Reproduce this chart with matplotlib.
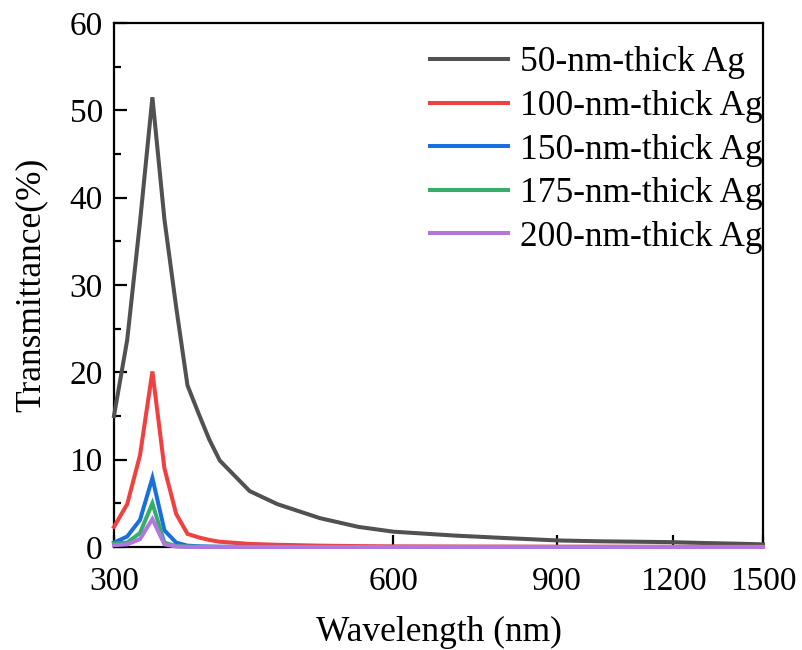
import matplotlib
matplotlib.use("Agg")
import matplotlib.pyplot as plt
from matplotlib.ticker import FixedLocator, FixedFormatter, NullLocator, MultipleLocator

plt.rcParams['font.family'] = ['Liberation Serif', 'DejaVu Serif']

wavelength = [300, 310, 320, 330, 340, 350, 360, 370, 380, 390, 420, 450,
              500, 550, 600, 700, 800, 900, 1000, 1100, 1200, 1300, 1400, 1500]
t50 = [15.0, 23.7, 37.2, 51.5, 37.5, 27.5, 18.5, 15.3, 12.3, 9.9, 6.4, 4.9,
       3.3, 2.3, 1.75, 1.3, 1.0, 0.75, 0.65, 0.6, 0.55, 0.45, 0.38, 0.3]
t100 = [2.3, 4.9, 10.5, 20.1, 9.0, 3.8, 1.5, 1.1, 0.8, 0.6, 0.35, 0.25,
        0.15, 0.1, 0.07, 0.05, 0.04, 0.03, 0.03, 0.02, 0.02, 0.02, 0.02, 0.02]
t150 = [0.5, 1.2, 3.1, 7.9, 1.9, 0.5, 0.15, 0.08, 0.05, 0.03, 0.01, 0.01,
        0.0, 0.0, 0.0, 0.0, 0.0, 0.0, 0.0, 0.0, 0.0, 0.0, 0.0, 0.0]
t175 = [0.4, 0.5, 1.6, 5.0, 0.5, 0.1, 0.05, 0.02, 0.01, 0.0, 0.0, 0.0,
        0.0, 0.0, 0.0, 0.0, 0.0, 0.0, 0.0, 0.0, 0.0, 0.0, 0.0, 0.0]
t200 = [0.2, 0.3, 0.9, 3.2, 0.3, 0.05, 0.01, 0.0, 0.0, 0.0, 0.0, 0.0,
        0.0, 0.0, 0.0, 0.0, 0.0, 0.0, 0.0, 0.0, 0.0, 0.0, 0.0, 0.0]

labels = ["50-nm-thick Ag", "100-nm-thick Ag", "150-nm-thick Ag",
          "175-nm-thick Ag", "200-nm-thick Ag"]
colors = ['#515151', '#F14040', '#1A6FDF', '#37AD6B', '#B177DE']
series = [t50, t100, t150, t175, t200]

xticks = [300, 600, 900, 1200, 1500]
yticks = [0, 10, 20, 30, 40, 50, 60]

fig = plt.figure(figsize=(8.02, 6.5), dpi=100)
ax = fig.add_axes([0.1421, 0.1585, 0.8093, 0.8061])

for y, c, lab in zip(series, colors, labels):
    ax.plot(wavelength, y, color=c, lw=2.9, label=lab, zorder=5, clip_on=False,
            solid_joinstyle='miter')

ax.set_xscale('log')
ax.set_xlim(300, 1500)
ax.set_ylim(0, 60)
ax.xaxis.set_major_locator(FixedLocator(xticks))
ax.xaxis.set_major_formatter(FixedFormatter([str(v) for v in xticks]))
ax.xaxis.set_minor_locator(NullLocator())
ax.yaxis.set_major_locator(FixedLocator(yticks))
ax.yaxis.set_minor_locator(MultipleLocator(5))

for s in ax.spines.values():
    s.set_linewidth(1.6)
ax.tick_params(axis='both', which='major', direction='in', length=9, width=1.6,
               labelsize=24)
ax.tick_params(axis='x', which='major', pad=14)
ax.tick_params(axis='y', which='major', pad=8)
ax.tick_params(axis='y', which='minor', direction='in', length=5, width=1.6)

ax.set_xlabel("Wavelength (nm)", fontsize=25.5, labelpad=14)
ax.set_ylabel("Transmittance(%)", fontsize=25.5, labelpad=16)

ax.legend(loc='upper right', frameon=False, fontsize=25.5, handlelength=2.2,
          handletextpad=0.35, labelspacing=0.3, borderaxespad=0.2,
          bbox_to_anchor=(1.032, 0.996))

fig.savefig("out.png", dpi=100)
